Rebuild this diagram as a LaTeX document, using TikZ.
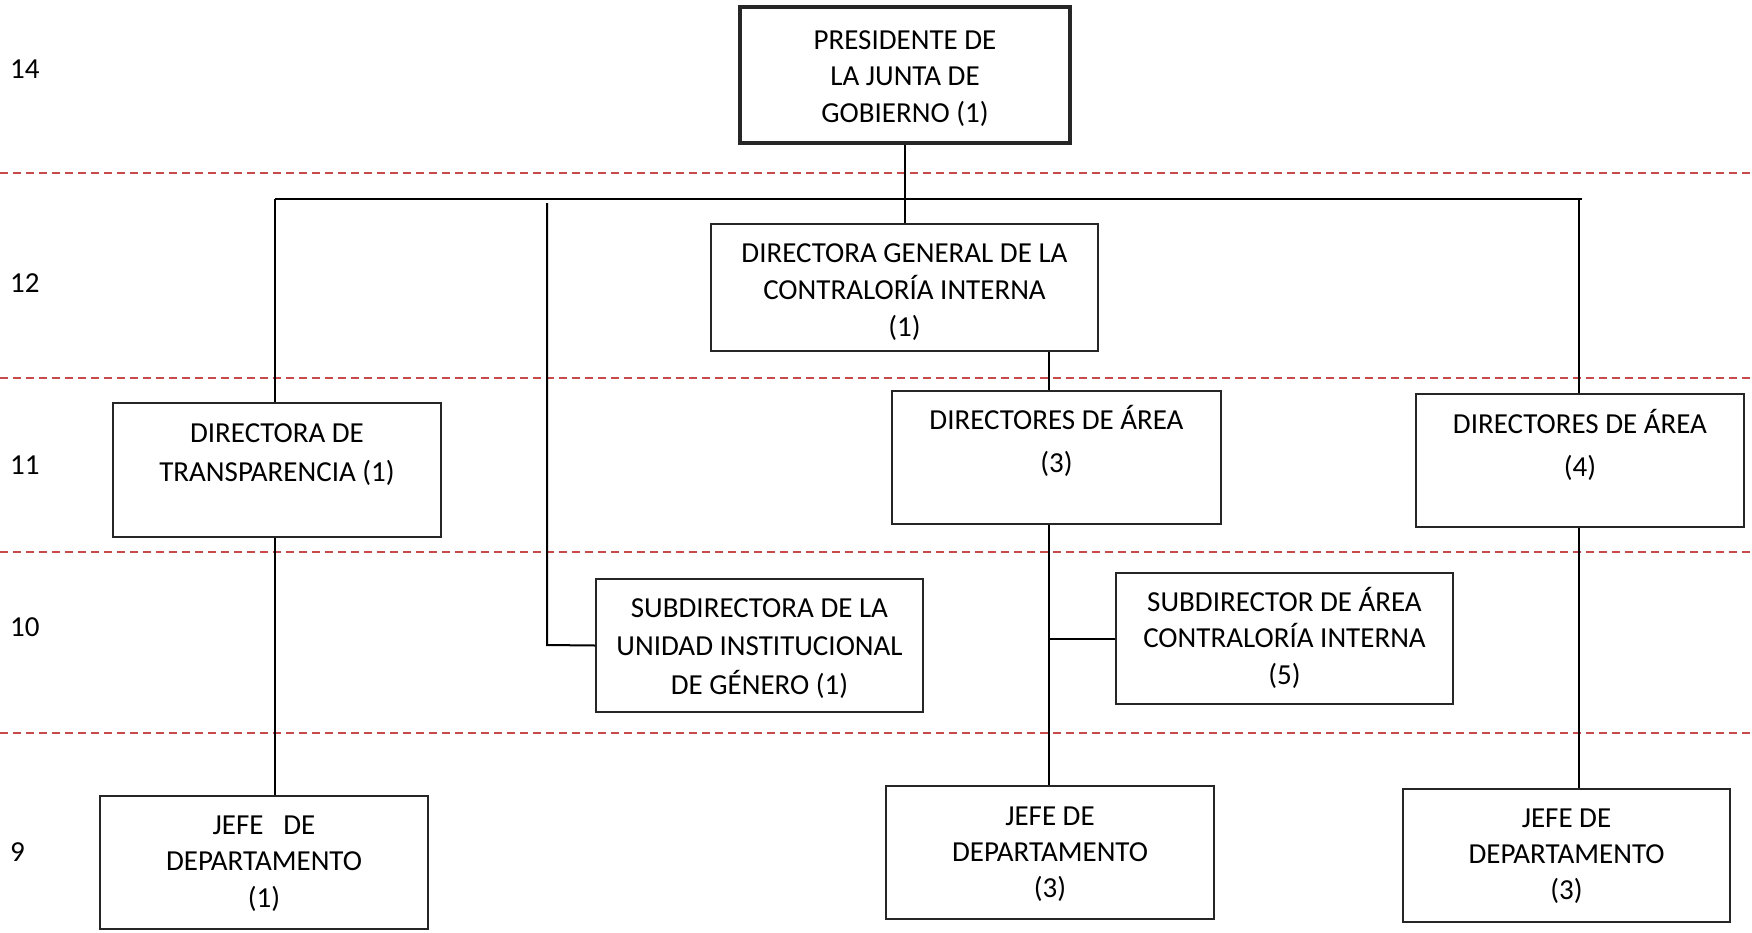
\documentclass[tikz,border=0pt]{standalone}
\usepackage{fontspec}
\setmainfont{Carlito}
\definecolor{guide}{RGB}{200,75,75}
\newcommand\firstln[2]{\rule{0pt}{#1pt}\smash{#2}}
\begin{document}
\begin{tikzpicture}[x=1pt,y=-1pt,
  box/.style={draw=black!85, line width=1.5pt, fill=white, align=center, inner sep=0pt,
    font=\fontsize{29}{38}\selectfont},
  bigbox/.style={box, line width=4pt},
  conn/.style={draw=black, line width=2pt},
  guideline/.style={draw=guide, line width=2pt, dash pattern=on 8pt off 5pt},
  level/.style={anchor=west, inner sep=0pt, font=\fontsize{29}{38}\selectfont}]
\useasboundingbox (0,0) rectangle (1752,932);
% guide lines
\foreach \yy in {173,378,552,733} \draw[guideline] (0,\yy) -- (1752,\yy);
% level labels
\node[level] (l14) at (10,69) {14};
\node[level] (l12) at (10,283) {12};
\node[level] (l11) at (10,465) {11};
\node[level] (l10) at (10,627) {10};
\node[level] (l9) at (10,852) {9};
% boxes
\node[bigbox, minimum width=330pt, minimum height=136pt, font=\fontsize{29}{36.5}\selectfont] (pres) at (905,75)
  {\firstln{21.7}{PRESIDENTE DE}\\LA JUNTA DE\\\smash{GOBIERNO (1)}};
\node[box, minimum width=387pt, minimum height=127pt, font=\fontsize{29}{37}\selectfont] (dg) at (904.5,287.5)
  {\firstln{23.7}{DIRECTORA GENERAL DE LA}\\CONTRALORÍA INTERNA\\\smash{(1)}};
\node[box, minimum width=328pt, minimum height=134pt, font=\fontsize{29}{39}\selectfont] (transp) at (277,470)
  {\firstln{22.7}{DIRECTORA DE}\\TRANSPARENCIA (1)\\\mbox{}};
\node[box, minimum width=329pt, minimum height=133pt, font=\fontsize{29}{43}\selectfont] (dir3) at (1056.5,457.5)
  {\firstln{29.7}{DIRECTORES DE ÁREA}\\(3)\\\mbox{}};
\node[box, minimum width=328pt, minimum height=133pt, font=\fontsize{29}{43}\selectfont] (dir4) at (1580,460.5)
  {\firstln{31.7}{DIRECTORES DE ÁREA}\\(4)\\\mbox{}};
\node[box, minimum width=327pt, minimum height=133pt, font=\fontsize{29}{38.5}\selectfont] (subg) at (759.5,645.5)
  {\firstln{20.7}{SUBDIRECTORA DE LA}\\UNIDAD INSTITUCIONAL\\\smash{DE GÉNERO (1)}};
\node[box, minimum width=337pt, minimum height=131pt, font=\fontsize{29}{36.5}\selectfont] (subd) at (1284.5,638.5)
  {\firstln{18.7}{SUBDIRECTOR DE ÁREA}\\CONTRALORÍA INTERNA\\\smash{(5)}};
\node[box, minimum width=328pt, minimum height=133pt, font=\fontsize{29}{36.5}\selectfont] (jefe1) at (264,862.5)
  {\firstln{16.7}{JEFE~~~DE}\\DEPARTAMENTO\\\smash{(1)}};
\node[box, minimum width=328pt, minimum height=133pt, font=\fontsize{29}{36}\selectfont] (jefe3) at (1050,852.5)
  {\firstln{17.7}{JEFE DE}\\DEPARTAMENTO\\\smash{(3)}};
\node[box, minimum width=327pt, minimum height=133pt, font=\fontsize{29}{36}\selectfont] (jefe3b) at (1566.5,855.5)
  {\firstln{15.7}{JEFE DE}\\DEPARTAMENTO\\\smash{(3)}};
% connector helper points
\coordinate (busL) at (275,199);
\coordinate (busR) at (1582,199);
\coordinate (gTop) at (547,203);
\coordinate (gBend) at (547,645);
\coordinate (rTop) at (1579,199);
% connectors
\draw[conn] (pres.south) -- (pres.south |- dg.north);
\draw[conn] (busL) -- (busR);
\draw[conn] (busL) -- (busL |- transp.north);
\draw[conn] (gTop) -- (gBend) -- (subg.west);
\draw[conn] (rTop) -- (rTop |- dir4.north);
\draw[conn] (1049,0 |- dg.south) -- (1049,0 |- dir3.north);
\draw[conn] (1049,0 |- dir3.south) -- (1049,0 |- jefe3.north);
\draw[conn] (1049,0 |- subd.west) -- (subd.west);
\draw[conn] (busL |- transp.south) -- (busL |- jefe1.north);
\draw[conn] (rTop |- dir4.south) -- (rTop |- jefe3b.north);
\end{tikzpicture}
\end{document}
